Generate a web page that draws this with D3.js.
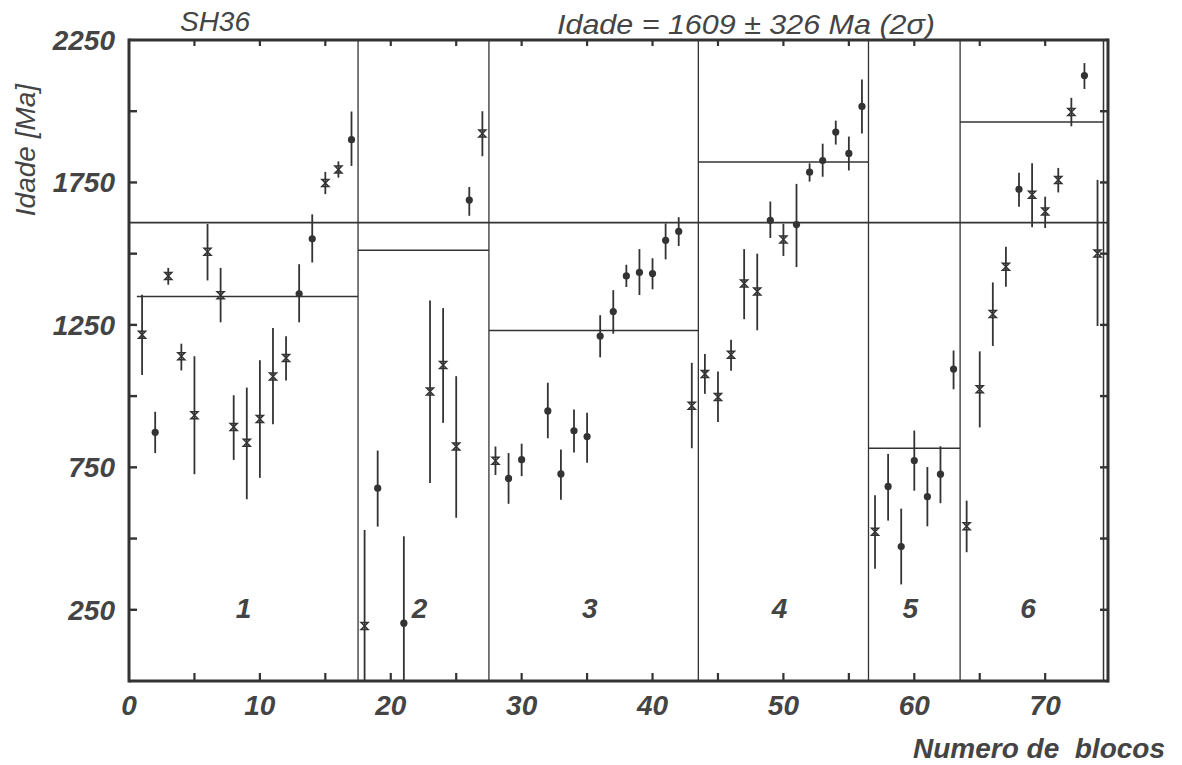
<!DOCTYPE html>
<html><head><meta charset="utf-8">
<script src="https://cdn.jsdelivr.net/npm/d3@7"></script>
<style>body{margin:0;background:#fff}svg{display:block}</style>
</head><body>
<svg id="c" width="1182" height="765"></svg>
<script>
// ---- data ----
const pointIndex = [1,2,3,4,5,6,7,8,9,10,11,12,13,14,15,16,17,18,19,21,23,24,25,26,27,28,29,30,32,33,34,35,36,37,38,39,40,41,42,43,44,45,46,47,48,49,50,51,52,53,54,55,56,57,58,59,60,61,62,63,64,65,66,67,68,69,70,71,72,73,74];
const ageValues  = [1215,873,1422,1140,933,1507,1354,892,836,920,1069,1134,1359,1552,1748,1795,1900,193,677,203,1016,1109,823,1688,1922,773,711,777,948,727,878,858,1211,1297,1422,1434,1430,1547,1578,966,1078,997,1145,1395,1367,1617,1550,1602,1786,1827,1927,1852,2017,524,683,472,774,647,726,1095,543,1024,1288,1454,1726,1707,1648,1759,1997,2125,1501];
const errLower   = [1074,800,1391,1090,726,1406,1259,776,638,713,901,1055,1259,1469,1709,1767,1808,0,542,0,695,906,573,1633,1842,723,622,719,852,636,802,766,1136,1219,1383,1355,1375,1480,1527,817,1008,909,1089,1270,1231,1555,1492,1453,1753,1770,1883,1792,1922,394,563,339,668,543,624,1024,452,890,1176,1384,1665,1593,1590,1715,1947,2078,1246];
const errUpper   = [1356,945,1450,1184,1140,1604,1450,1003,1030,1126,1239,1210,1463,1638,1787,1824,1999,530,809,508,1336,1309,1070,1734,2000,823,800,833,1047,813,953,942,1284,1372,1461,1516,1484,1606,1628,1117,1148,1086,1198,1516,1500,1683,1605,1745,1817,1886,1967,1911,2111,652,797,605,879,751,824,1160,633,1157,1399,1524,1784,1817,1700,1801,2047,2169,1759];
const markerTypes = ["x","o","x","x","x","x","x","x","x","x","x","x","o","o","x","x","o","x","o","o","x","x","x","o","x","x","o","o","o","o","o","o","o","o","o","o","o","o","o","x","x","x","x","x","x","o","x","o","o","o","o","o","o","x","o","o","o","o","o","o","x","x","x","x","o","x","x","x","x","o","x"];

const blockNames = ["1","2","3","4","5","6"];
const blockStart = [0.6,17.5,27.5,43.5,56.5,63.5];
const blockEnd   = [17.5,27.5,43.5,56.5,63.5,74.5];
const blockMean  = [1350,1512,1230,1822,817,1962];
const overallMean = 1609;

const xTickLabels = [0,10,20,30,40,50,60,70];
const xMinorTicks = [5,10,15,20,25,30,35,40,45,50,55,60,65,70];
const yTickLabels = [250,750,1250,1750,2250];
const yMinorTicks = [250,500,750,1000,1250,1500,1750,2000];

const titleLeft = "SH36";
const titleRight = "Idade = 1609 \u00B1 326 Ma (2\u03C3)";
const yTitle = "Idade [Ma]";
const xTitle = "Numero de  blocos";

// ---- drawing ----
const L = 129, R = 1108, T = 40, B = 681;
const ink = "#333", txt = "#444";
const svg = d3.select("#c");
const x = d3.scaleLinear().domain([0, 74.8]).range([L, R]);
const y = d3.scaleLinear().domain([0, 2250]).range([B, T]);
const font = "'Liberation Sans', Arial, sans-serif";

const g = svg.append("g");

// overall mean line
g.append("line").attr("x1", x(0)).attr("x2", x(74.8)).attr("y1", y(overallMean)).attr("y2", y(overallMean))
  .attr("stroke", ink).attr("stroke-width", 1.8);

// block mean lines
g.selectAll(".bm").data(blockMean).join("line")
  .attr("x1", (d,i) => x(blockStart[i])).attr("x2", (d,i) => x(blockEnd[i]))
  .attr("y1", d => y(d)).attr("y2", d => y(d))
  .attr("stroke", ink).attr("stroke-width", 1.5);

// block dividers
g.selectAll(".bd").data(blockStart.slice(1)).join("line")
  .attr("x1", d => x(d)).attr("x2", d => x(d)).attr("y1", y(0)).attr("y2", y(2250))
  .attr("stroke", ink).attr("stroke-width", 1.3);

// block labels
g.selectAll(".bl").data(blockNames).join("text")
  .attr("x", (d,i) => x((blockStart[i] + blockEnd[i]) / 2 - 0.3))
  .attr("y", y(250) + 8)
  .attr("text-anchor", "middle").attr("font-family", font).attr("font-style", "italic").attr("font-weight", "bold")
  .attr("font-size", 28).attr("fill", txt).text(d => d);

// error bars
g.selectAll(".eb").data(pointIndex).join("line")
  .attr("x1", d => x(d)).attr("x2", d => x(d))
  .attr("y1", (d,i) => y(errLower[i])).attr("y2", (d,i) => y(errUpper[i]))
  .attr("stroke", ink).attr("stroke-width", 1.8);

// markers
pointIndex.forEach((d, i) => {
  const cx = x(d), cy = y(ageValues[i]);
  if (markerTypes[i] === "o") {
    g.append("circle").attr("cx", cx).attr("cy", cy).attr("r", 3.6).attr("fill", ink);
  } else {
    const s = 3.5;
    g.append("path").attr("d", `M${cx-s},${cy-s}H${cx+s}L${cx-s},${cy+s}H${cx+s}Z`)
      .attr("fill", "none").attr("stroke", ink).attr("stroke-width", 1.5);
  }
});

// frame
g.append("line").attr("x1", x(0)).attr("x2", x(74.8)).attr("y1", y(2250)).attr("y2", y(2250)).attr("stroke", ink).attr("stroke-width", 3);
g.append("line").attr("x1", x(0)).attr("x2", x(74.8)).attr("y1", y(0)).attr("y2", y(0)).attr("stroke", ink).attr("stroke-width", 3.2);
g.append("line").attr("x1", x(0)).attr("x2", x(0)).attr("y1", y(0)+1.5).attr("y2", y(2250)-1.5).attr("stroke", ink).attr("stroke-width", 3);
g.append("line").attr("x1", x(74.8)).attr("x2", x(74.8)).attr("y1", y(0)+1.5).attr("y2", y(2250)-1.5).attr("stroke", ink).attr("stroke-width", 3);
g.append("line").attr("x1", x(74.8)-4.5).attr("x2", x(74.8)-4.5).attr("y1", y(0)).attr("y2", y(2250)).attr("stroke", ink).attr("stroke-width", 1.5);

// ticks: top & bottom (inward)
g.selectAll(".tt").data(xMinorTicks).join("line")
  .attr("x1", d => x(d)).attr("x2", d => x(d)).attr("y1", y(2250)).attr("y2", y(2250) + 6)
  .attr("stroke", ink).attr("stroke-width", 2.2);
g.selectAll(".bt").data(xMinorTicks).join("line")
  .attr("x1", d => x(d)).attr("x2", d => x(d)).attr("y1", y(0)).attr("y2", y(0) - 8)
  .attr("stroke", ink).attr("stroke-width", 2.2);
// left & right ticks
g.selectAll(".lt").data(yMinorTicks).join("line")
  .attr("x1", x(0)).attr("x2", x(0) + 8).attr("y1", d => y(d)).attr("y2", d => y(d))
  .attr("stroke", ink).attr("stroke-width", 2.4);
g.selectAll(".rt").data(yMinorTicks).join("line")
  .attr("x1", x(74.8) - 8).attr("x2", x(74.8)).attr("y1", d => y(d)).attr("y2", d => y(d))
  .attr("stroke", ink).attr("stroke-width", 2.4);

// tick labels
g.selectAll(".xl").data(xTickLabels).join("text")
  .attr("x", d => x(d)).attr("y", y(0) + 34)
  .attr("text-anchor", "middle").attr("font-family", font).attr("font-style", "italic").attr("font-weight", "bold")
  .attr("font-size", 28).attr("fill", txt).text(d => d);
g.selectAll(".yl").data(yTickLabels).join("text")
  .attr("x", x(0) - 14).attr("y", d => y(d) + 10)
  .attr("text-anchor", "end").attr("font-family", font).attr("font-style", "italic").attr("font-weight", "bold")
  .attr("font-size", 28).attr("fill", txt).text(d => d);

// titles
svg.append("text").attr("x", 215).attr("y", 31).attr("text-anchor", "middle")
  .attr("font-family", font).attr("font-style", "italic").attr("font-size", 28).attr("fill", txt).text(titleLeft);
svg.append("text").attr("x", 557).attr("y", 34).attr("text-anchor", "start")
  .attr("textLength", 378).attr("lengthAdjust", "spacingAndGlyphs")
  .attr("font-family", font).attr("font-style", "italic").attr("font-size", 28).attr("fill", txt).text(titleRight);
svg.append("text").attr("transform", `translate(35,150) rotate(-90)`).attr("text-anchor", "middle")
  .attr("font-family", font).attr("font-style", "italic").attr("font-size", 28).attr("fill", txt).text(yTitle);
svg.append("text").attr("x", 1165).attr("y", 758).attr("text-anchor", "end")
  .style("white-space", "pre")
  .attr("font-family", font).attr("font-style", "italic").attr("font-weight", "bold").attr("font-size", 28).attr("fill", txt).text(xTitle);
</script>
</body></html>
